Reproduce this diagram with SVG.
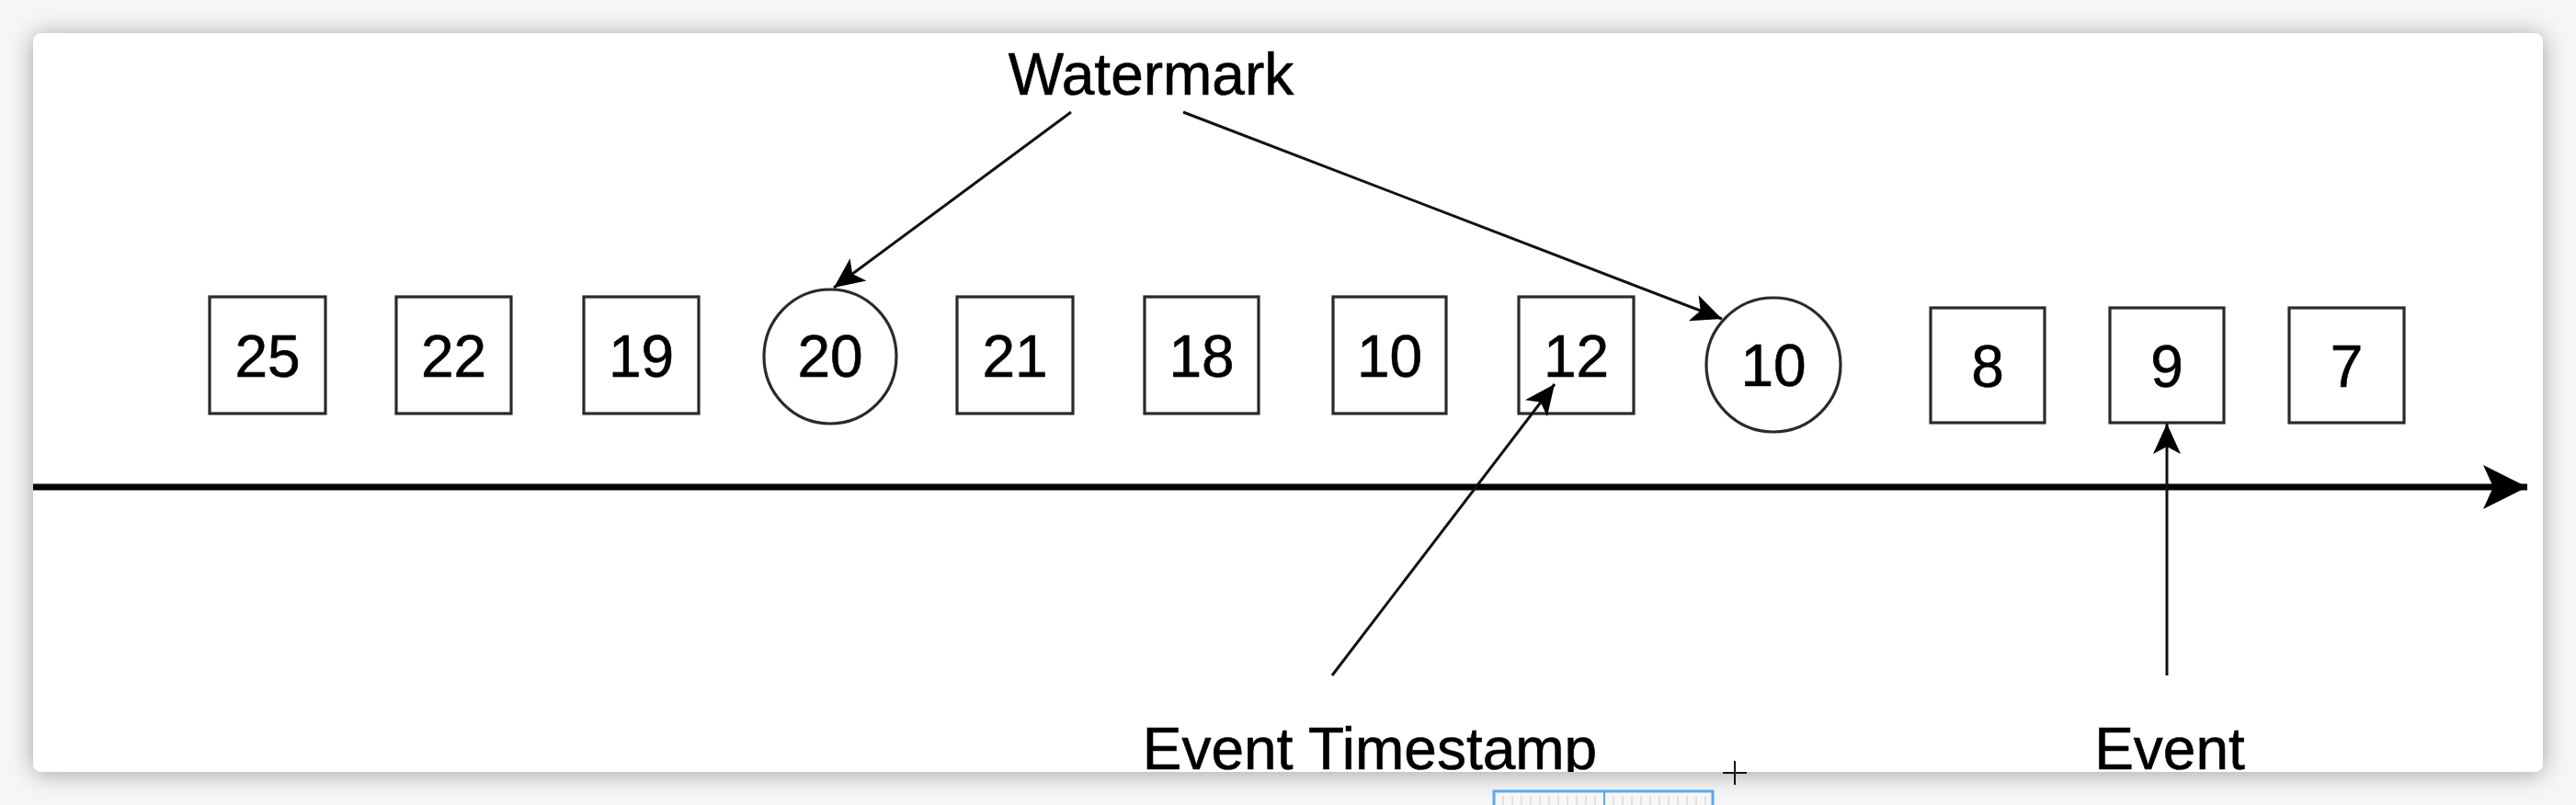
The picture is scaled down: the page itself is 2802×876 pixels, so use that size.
<svg xmlns="http://www.w3.org/2000/svg" width="2802" height="876" viewBox="0 0 2802 876">
  <defs>
    <filter id="shadow" x="-5%" y="-20%" width="110%" height="140%">
      <feDropShadow dx="0" dy="2" stdDeviation="13" flood-color="#000" flood-opacity="0.35"/>
    </filter>
    <clipPath id="cardClip">
      <rect x="36" y="36" width="2730" height="804" rx="9"/>
    </clipPath>
    <marker id="arrow" viewBox="-34 -17 35 34" markerWidth="35" markerHeight="34" refX="0" refY="0" orient="auto" markerUnits="userSpaceOnUse">
      <path d="M0,0 L-33,-15 L-25,0 L-33,15 Z" fill="#000"/>
    </marker>
    <marker id="bigArrow" viewBox="-50 -26 51 52" markerWidth="51" markerHeight="52" refX="0" refY="0" orient="auto" markerUnits="userSpaceOnUse">
      <path d="M0,0 L-48,-24 L-37,0 L-48,24 Z" fill="#000"/>
    </marker>
    <style>
      .node rect, .node ellipse { fill: #fff; stroke: #2a2a2a; stroke-width: 3.2; }
      .node text, .label { font-family: "Liberation Sans", Arial, sans-serif; font-size: 64px; fill: #000; text-anchor: middle; stroke: #000; stroke-width: 0.6; }
      .conn { fill: none; stroke: #111; stroke-width: 3; marker-end: url(#arrow); }
      .timeline { fill: none; stroke: #000; stroke-width: 7; marker-end: url(#bigArrow); }
    </style>
  </defs>

  <!-- backdrop -->
  <rect x="0" y="0" width="2802" height="876" fill="#f6f6f6"/>
  <rect x="36" y="36" width="2730" height="804" rx="9" fill="#fff" filter="url(#shadow)"/>

  <g clip-path="url(#cardClip)">
    <g id="n25" class="node"><rect x="228" y="323" width="126" height="127"/><text x="291" y="410">25</text></g>
    <g id="n22" class="node"><rect x="431" y="323" width="125" height="127"/><text x="493.5" y="410">22</text></g>
    <g id="n19" class="node"><rect x="635" y="323" width="125" height="127"/><text x="697.5" y="410">19</text></g>
    <g id="w20" class="node"><ellipse cx="903" cy="388" rx="72" ry="73"/><text x="903" y="410">20</text></g>
    <g id="n21" class="node"><rect x="1041" y="323" width="126" height="127"/><text x="1104" y="410">21</text></g>
    <g id="n18" class="node"><rect x="1245" y="323" width="124" height="127"/><text x="1307" y="410">18</text></g>
    <g id="n10" class="node"><rect x="1450" y="323" width="123" height="127"/><text x="1511.5" y="410">10</text></g>
    <g id="n12" class="node"><rect x="1652" y="323" width="125" height="127"/><text x="1714.5" y="410">12</text></g>
    <g id="w10" class="node"><ellipse cx="1929" cy="397" rx="73" ry="73"/><text x="1929" y="420">10</text></g>
    <g id="n8" class="node"><rect x="2100" y="335" width="124" height="125"/><text x="2162" y="421">8</text></g>
    <g id="n9" class="node"><rect x="2295" y="335" width="124" height="125"/><text x="2357" y="421">9</text></g>
    <g id="n7" class="node"><rect x="2490" y="335" width="125" height="125"/><text x="2552.5" y="421">7</text></g>

    <g id="watermark"><text class="label" x="1252" y="103">Watermark</text></g>
    <g id="eventTimestamp"><text class="label" x="1490" y="837">Event Timestamp</text></g>
    <g id="event"><text class="label" x="2360" y="837">Event</text></g>

    <g id="connectors">
      <path class="timeline" d="M36,530 L2749,530"/>
      <path class="conn" d="M1165,122 L907,313"/>
      <path class="conn" d="M1287,122 L1873,347"/>
      <path class="conn" d="M1449,735 L1691,418"/>
      <path class="conn" d="M2357,735 L2357,461"/>
    </g>
  </g>

  <!-- ruler fragment and cursor at the bottom edge -->
  <g id="ruler">
    <rect x="1625" y="861" width="238" height="20" fill="#f7f7f7" stroke="#5aa8f5" stroke-width="3"/>
    <path d="M1635,866V876M1645,866V876M1655,866V876M1665,866V876M1675,866V876M1685,866V876M1695,866V876M1705,866V876M1715,866V876M1725,866V876M1735,866V876M1755,866V876M1765,866V876M1775,866V876M1785,866V876M1795,866V876M1805,866V876M1815,866V876M1825,866V876M1835,866V876M1845,866V876M1855,866V876" stroke="#ccc" stroke-width="1"/>
    <path d="M1745,862V876" stroke="#5aa8f5" stroke-width="2"/>
  </g>
  <g id="cursor" stroke="#111" stroke-width="2">
    <path d="M1874,841H1900M1887,828V854"/>
  </g>
</svg>
